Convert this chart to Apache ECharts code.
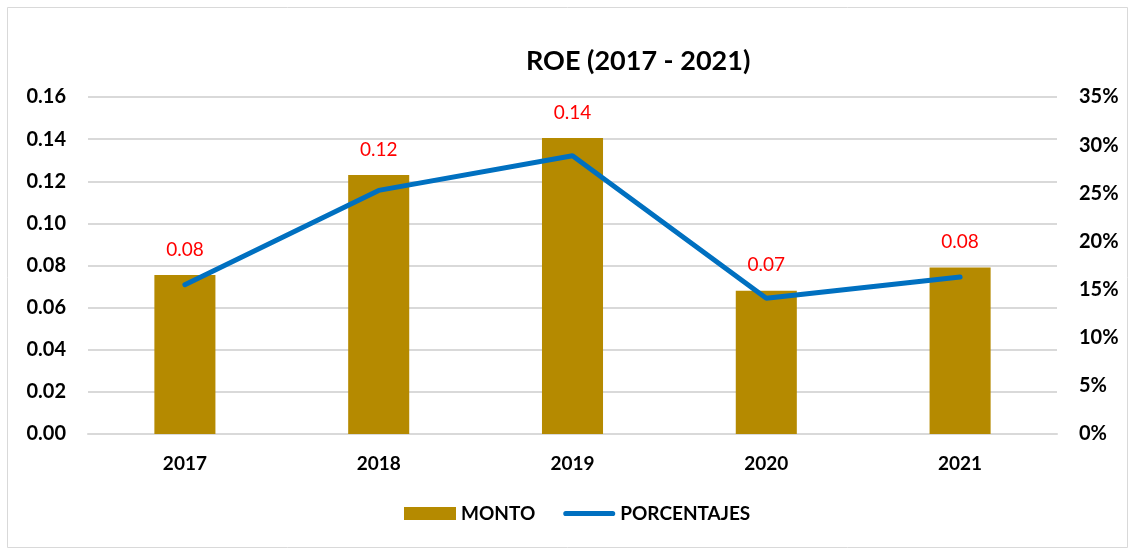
<!DOCTYPE html>
<html>
<head>
<meta charset="utf-8">
<script src="https://cdn.jsdelivr.net/npm/echarts@6/dist/echarts.min.js"></script>
<style>
html, body { margin: 0; padding: 0; background: #fff; }
#main { width: 1135px; height: 552px; }
</style>
</head>
<body>
<div id="main"></div>
<script>
var myChart = echarts.init(document.getElementById('main'));

var years = ['2017', '2018', '2019', '2020', '2021'];
var monto = [0.0755, 0.123, 0.1405, 0.068, 0.079];
var porcentajes = [15.5, 25.3, 28.9, 14.1, 16.3];

var font = 'Lato, "Open Sans", sans-serif';

option = {
    backgroundColor: '#fff',
    textStyle: { fontFamily: font },
    title: {
        text: 'ROE (2017 - 2021)',
        left: 521,
        top: 43,
        textStyle: { fontSize: 27, fontWeight: 'bold', color: '#000', fontFamily: font }
    },
    legend: {
        bottom: 24,
        left: 399,
        itemGap: 28,
        itemWidth: 52,
        itemHeight: 13,
        textStyle: { fontSize: 19, fontWeight: 'bold', color: '#000' },
        data: [
            { name: 'MONTO', icon: 'rect' },
            { name: 'PORCENTAJES', icon: 'path://M5,0 h90 a5,5 0 0 1 0,10 h-90 a5,5 0 0 1 0,-10 z' }
        ]
    },
    graphic: [{
        type: 'rect',
        shape: { x: 7.5, y: 7.5, width: 1120, height: 540 },
        style: { fill: 'none', stroke: '#d9d9d9', lineWidth: 1 },
        silent: true
    }],
    grid: { left: 88, right: 78, top: 97, bottom: 118 },
    xAxis: {
        type: 'category',
        data: years,
        axisTick: { show: false },
        axisLine: { lineStyle: { color: '#d9d9d9', width: 2 } },
        axisLabel: { color: '#000', fontSize: 19, fontWeight: 'bold', margin: 20 }
    },
    yAxis: [{
        type: 'value',
        min: 0,
        max: 0.16,
        interval: 0.02,
        axisLine: { show: false },
        axisTick: { show: false },
        splitLine: { lineStyle: { color: '#d9d9d9', width: 2 } },
        axisLabel: {
            color: '#000', fontSize: 20, fontWeight: 'bold', margin: 22,
            formatter: function (v) { return v.toFixed(2); }
        }
    }, {
        type: 'value',
        min: 0,
        max: 35,
        interval: 5,
        axisLine: { show: false },
        axisTick: { show: false },
        splitLine: { show: false },
        axisLabel: {
            color: '#000', fontSize: 20, fontWeight: 'bold', margin: 22,
            formatter: '{value}%'
        }
    }],
    series: [{
        name: 'MONTO',
        type: 'bar',
        data: monto,
        barWidth: '31.5%',
        itemStyle: { color: '#B58A00' },
        label: {
            show: true,
            position: 'top',
            distance: 16,
            color: '#ff0000',
            fontSize: 19,
            formatter: function (p) { return p.value.toFixed(2); }
        }
    }, {
        name: 'PORCENTAJES',
        type: 'line',
        yAxisIndex: 1,
        data: porcentajes,
        showSymbol: false,
        symbolKeepAspect: true,
        lineStyle: { color: '#0070C0', width: 5, cap: 'round' },
        itemStyle: { color: '#0070C0' }
    }],
    animation: false
};
myChart.setOption(option);
</script>
</body>
</html>
